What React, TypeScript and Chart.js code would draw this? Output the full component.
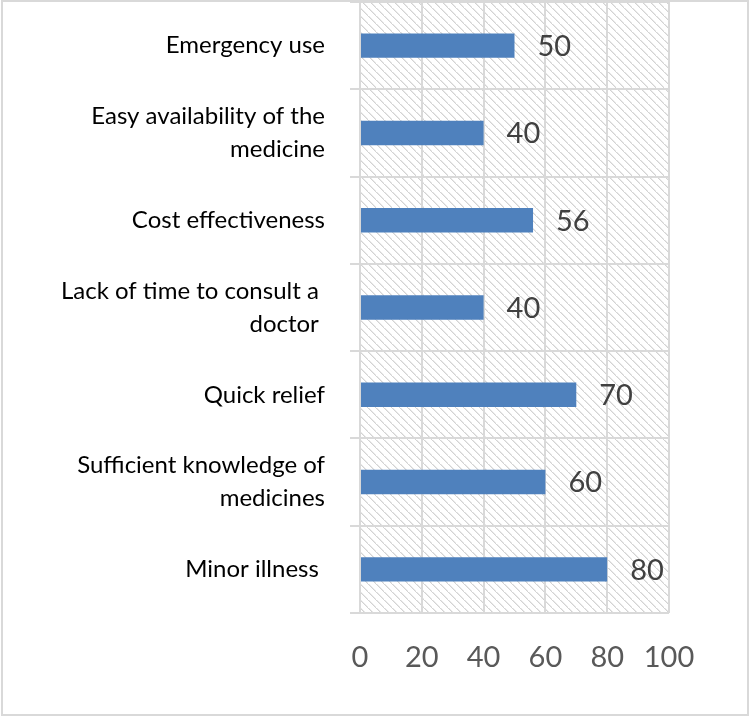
import React, { useEffect, useRef } from "react";
import { Chart, registerables } from "chart.js";

Chart.register(...registerables);

const categories: (string | string[])[] = [
  "Emergency use",
  ["Easy availability of the", "medicine"],
  "Cost effectiveness",
  ["Lack of time to consult a ", "doctor "],
  "Quick relief",
  ["Sufficient knowledge of", "medicines"],
  "Minor illness ",
];
const values: number[] = [50, 40, 56, 40, 70, 60, 80];
const xTicks: number[] = [0, 20, 40, 60, 80, 100];

const FONT = "Lato, 'Open Sans', sans-serif";
const GRID = "#d9d9d9";

function makeHatch(ctx: CanvasRenderingContext2D): CanvasPattern | string {
  const tile = document.createElement("canvas");
  tile.width = 8;
  tile.height = 8;
  const t = tile.getContext("2d");
  if (!t) return "#fff";
  t.fillStyle = "#ffffff";
  t.fillRect(0, 0, 8, 8);
  t.fillStyle = "#d3d3d3";
  for (let i = 0; i < 8; i += 1) {
    t.fillRect(i, i, 1.5, 1);
  }
  return ctx.createPattern(tile, "repeat") || "#fff";
}

const hatchPlugin = {
  id: "hatchBackground",
  beforeDraw(chart: Chart) {
    const { ctx, chartArea } = chart;
    ctx.save();
    ctx.fillStyle = "#ffffff";
    ctx.fillRect(0, 0, chart.width, chart.height);
    ctx.fillStyle = makeHatch(ctx);
    ctx.fillRect(chartArea.left, chartArea.top, chartArea.right - chartArea.left, chartArea.bottom - chartArea.top);
    ctx.restore();
  },
  afterDraw(chart: Chart) {
    const { ctx } = chart;
    ctx.save();
    ctx.strokeStyle = GRID;
    ctx.lineWidth = 2;
    ctx.strokeRect(2, 1, chart.width - 4, chart.height - 2);
    ctx.restore();
  },
};

const valueLabelPlugin = {
  id: "valueLabels",
  afterDatasetsDraw(chart: Chart) {
    const { ctx } = chart;
    const meta = chart.getDatasetMeta(0);
    ctx.save();
    ctx.font = `29px ${FONT}`;
    ctx.fillStyle = "#404040";
    ctx.textAlign = "left";
    ctx.textBaseline = "middle";
    meta.data.forEach((bar: any, i: number) => {
      ctx.fillText(String(values[i]), bar.x + 23, bar.y + 1);
    });
    ctx.restore();
  },
};

export default function App() {
  const canvasRef = useRef<HTMLCanvasElement | null>(null);

  useEffect(() => {
    document.body.style.margin = "0";
    const canvas = canvasRef.current;
    if (!canvas) return;
    const chart = new Chart(canvas, {
      type: "bar",
      data: {
        labels: categories,
        datasets: [
          {
            data: values,
            backgroundColor: "#4f81bd",
            borderWidth: 0,
            barPercentage: 0.28,
            categoryPercentage: 1,
          },
        ],
      },
      options: {
        indexAxis: "y",
        animation: false,
        responsive: false,
        devicePixelRatio: 1,
        layout: { padding: { left: 0, right: 81, top: 2, bottom: 0 } },
        plugins: { legend: { display: false }, tooltip: { enabled: false } },
        scales: {
          x: {
            min: 0,
            max: 100,
            afterBuildTicks(scale: any) {
              scale.ticks = xTicks.map((v) => ({ value: v }));
            },
            afterFit(scale: any) {
              scale.height = 103;
              scale.paddingLeft = 0;
              scale.paddingRight = 0;
            },
            grid: { color: GRID, lineWidth: 2, drawTicks: false },
            border: { display: false },
            ticks: {
              padding: 27,
              color: "#595959",
              font: { family: FONT, size: 29 },
              maxRotation: 0,
            },
          },
          y: {
            afterFit(scale: any) {
              scale.width = 360;
              scale.paddingTop = 0;
              scale.paddingBottom = 0;
            },
            grid: { offset: true, color: GRID, lineWidth: 2, tickLength: 10 },
            border: { color: GRID, width: 2 },
            ticks: {
              padding: 25,
              color: "#000000",
              font: { family: FONT, size: 24, lineHeight: 1.38 },
            },
          },
        },
      },
      plugins: [hatchPlugin, valueLabelPlugin],
    });
    return () => chart.destroy();
  }, []);

  return <canvas ref={canvasRef} width={750} height={716} style={{ display: "block" }} />;
}
